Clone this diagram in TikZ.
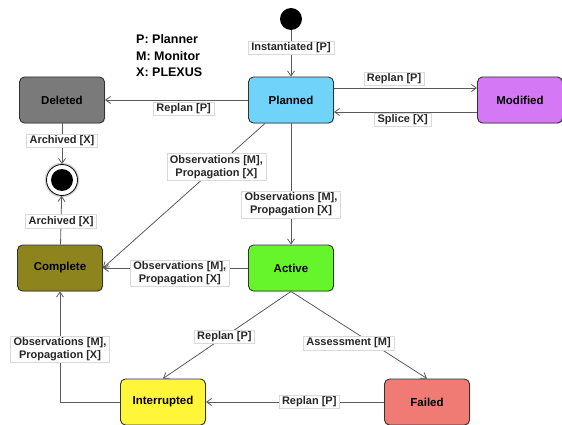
\documentclass[tikz,border=0pt]{standalone}
\usepackage{fontspec}
\setmainfont{Liberation Sans}
\usetikzlibrary{arrows.meta,shadows}
\definecolor{cDel}{RGB}{122,122,122}
\definecolor{cPlan}{RGB}{112,212,250}
\definecolor{cMod}{RGB}{212,120,245}
\definecolor{cComp}{RGB}{142,132,30}
\definecolor{cAct}{RGB}{102,245,42}
\definecolor{cInt}{RGB}{255,246,58}
\definecolor{cFail}{RGB}{240,122,116}
\definecolor{cLine}{RGB}{90,90,90}
\begin{document}
\begin{tikzpicture}[x=1pt,y=-1pt,
  statebox/.style={draw=black!80, line width=0.9pt, rounded corners=5pt,
    minimum width=85pt, minimum height=46pt, inner sep=0pt,
    font=\fontsize{11.5}{13}\selectfont\bfseries,
    drop shadow={opacity=0.3, shadow xshift=0.8pt, shadow yshift=-0.8pt}},
  lbl/.style={fill=white, draw=black!15, line width=0.4pt, inner xsep=3pt, inner ysep=1.5pt,
    font=\fontsize{11}{13}\selectfont\bfseries, align=center, text=black!85},
  conn/.style={draw=cLine, line width=0.8pt, -{Straight Barb[length=5pt,width=7pt,line width=0.8pt]}}
]
\useasboundingbox (0,0) rectangle (562,425);

% legend
\node[anchor=west, font=\fontsize{12.5}{16.5}\selectfont\bfseries, align=left, inner sep=0pt] (legend) at (136,56)
  {P: Planner\\M: Monitor\\X: PLEXUS};

% states
\node[circle, fill=black, minimum size=22pt, inner sep=0pt] (start) at (291,19) {};
\node[statebox, fill=cPlan] (planned) at (291,100) {Planned};
\node[statebox, fill=cDel] (deleted) at (62,100) {Deleted};
\node[statebox, fill=cMod] (modified) at (520,100) {Modified};
\node[circle, fill=white, draw=black, line width=0.8pt, minimum size=31pt, inner sep=0pt,
  drop shadow={opacity=0.35, shadow xshift=0pt, shadow yshift=0pt, shadow scale=1.12}] (final) at (62,180) {};
\node[circle, fill=black, minimum size=22pt, inner sep=0pt] (finalin) at (final) {};
\node[statebox, fill=cComp] (complete) at (60,268) {Complete};
\node[statebox, fill=cAct] (active) at (291,268) {Active};
\node[statebox, fill=cInt] (interrupted) at (163,402) {Interrupted};
\node[statebox, fill=cFail] (failed) at (427,402) {Failed};

\coordinate (corner) at (complete.south |- interrupted.west);

% connectors
\draw[conn] (start) -- (planned) node[lbl, pos=0.38] {Instantiated [P]};
\draw[conn] (planned) -- (deleted) node[lbl, pos=0.45, yshift=-9pt] {Replan [P]};
\draw[conn] ([yshift=12pt]planned.east) -- ([yshift=12pt]modified.west)
  node[lbl, pos=0.42, yshift=9pt] {Replan [P]};
\draw[conn] ([yshift=-12pt]modified.west) -- ([yshift=-12pt]planned.east)
  node[lbl, pos=0.52, yshift=-8pt] {Splice [X]};
\draw[conn] (deleted) -- (final) node[lbl, pos=0.42] {Archived [X]};
\draw[conn] (complete) -- (final) node[lbl, pos=0.48] {Archived [X]};
\draw[conn] ([xshift=-26pt]planned.south) -- (complete.east)
  node[lbl, pos=0.30] {Observations [M],\\Propagation [X]};
\draw[conn] (planned) -- (active) node[lbl, pos=0.67] {Observations [M],\\Propagation [X]};
\draw[conn] (active) -- (complete) node[lbl, pos=0.47, yshift=-5pt] {Observations [M],\\Propagation [X]};
\draw[conn] (active.south) -- (interrupted.north) node[lbl, pos=0.52] {Replan [P]};
\draw[conn] (active.south) -- (failed.north) node[lbl, pos=0.57, xshift=-20pt, yshift=-2pt] {Assessment [M]};
\draw[conn] (failed) -- (interrupted) node[lbl, pos=0.42] {Replan [P]};
\draw[conn] (interrupted.west) -- (corner) -- (complete.south)
  node[lbl, pos=0.48] {Observations [M],\\Propagation [X]};
\end{tikzpicture}
\end{document}
